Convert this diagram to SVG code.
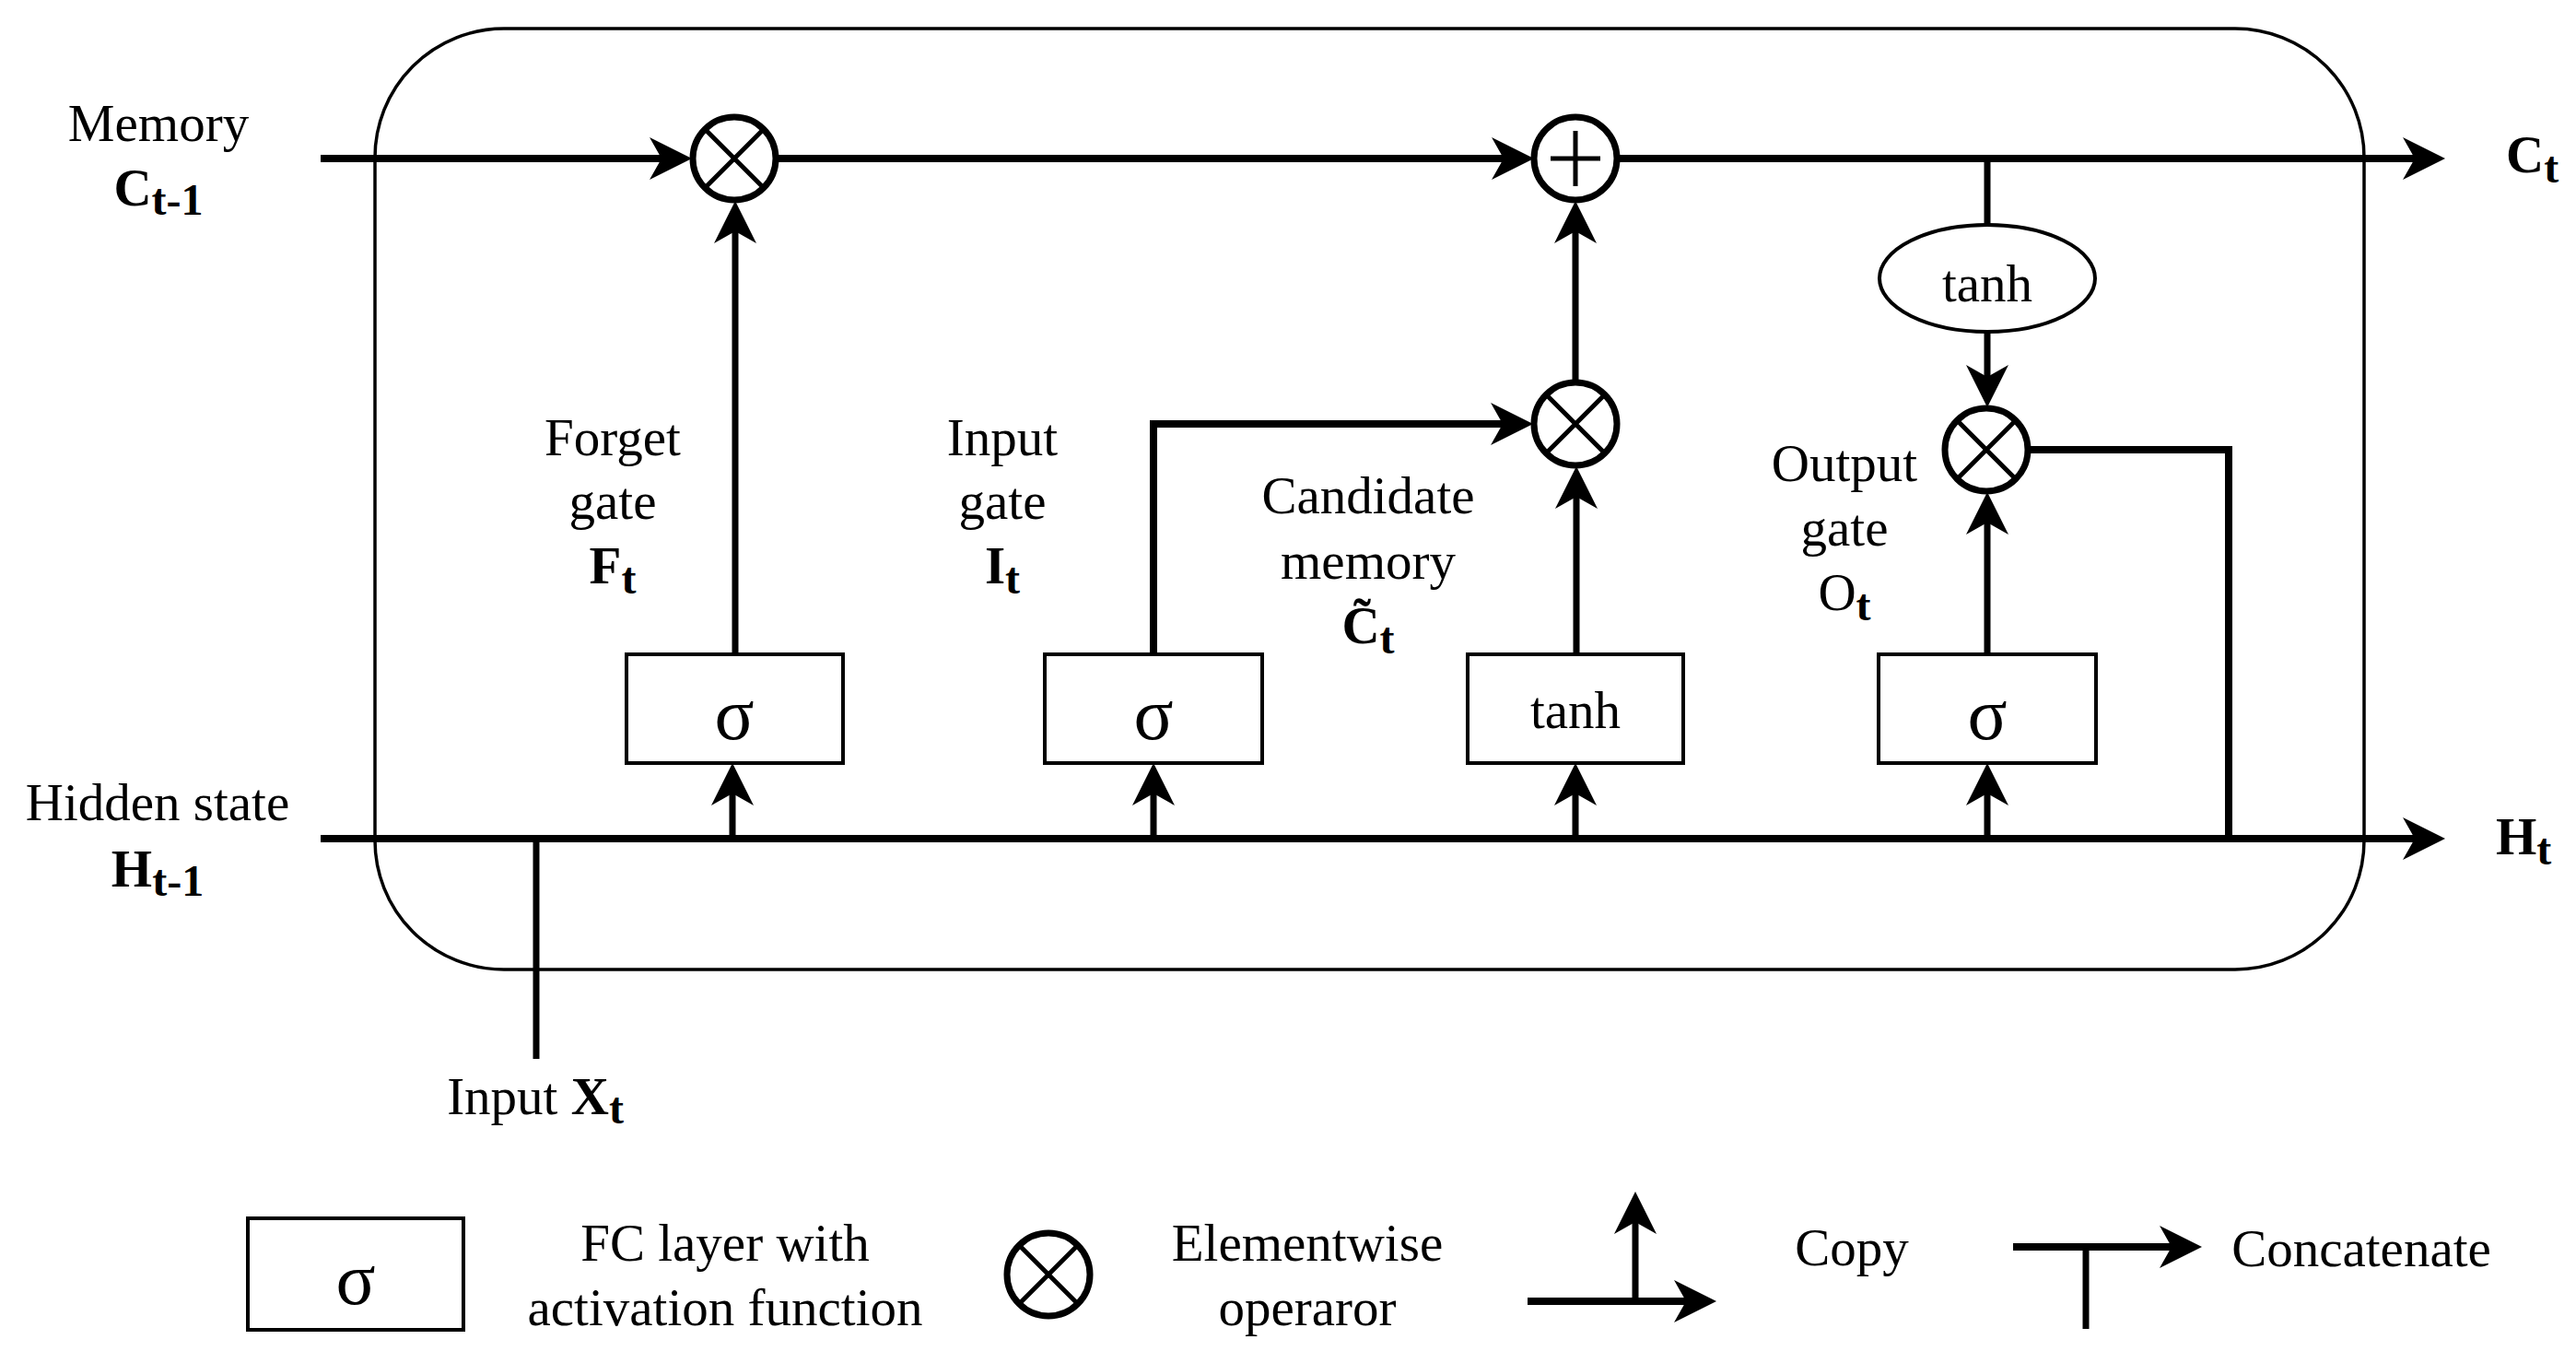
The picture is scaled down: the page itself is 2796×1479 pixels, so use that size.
<svg xmlns="http://www.w3.org/2000/svg" width="2796" height="1479" viewBox="0 0 2796 1479">
<style>
text{font-family:"Liberation Serif","Times New Roman",serif;font-size:57px;fill:#000;text-anchor:middle}
.b{font-weight:bold}
.s{font-size:48px}
.sig{font-size:80px}
.st{text-anchor:start}
.box{fill:#fff;stroke:#000;stroke-width:4}
.op{fill:#fff;stroke:#000;stroke-width:7}
.opl{stroke:#000;stroke-width:5;fill:none}
.ln{stroke:#000;stroke-width:8;fill:none}
.lv{stroke:#000;stroke-width:7;fill:none}
.arr{marker-end:url(#ah)}
</style>
<defs>
<marker id="ah" markerUnits="userSpaceOnUse" markerWidth="46" markerHeight="46" viewBox="0 0 46 46" refX="13" refY="23" orient="auto">
<path d="M0,0 L46,23 L0,46 L13,23 Z" fill="#000"/>
</marker>
<g id="times">
<circle r="45" class="op"/>
<path d="M-32,-32 L32,32 M-32,32 L32,-32" class="opl"/>
</g>
</defs>
<rect width="2796" height="1479" fill="#fff"/>

<g id="cell">
<rect x="407" y="31" width="2159" height="1021" rx="140" ry="140" fill="none" stroke="#000" stroke-width="3.5"/>
</g>

<g id="connectors">
<line x1="348" y1="172" x2="718" y2="172" class="ln arr"/>
<line x1="842" y1="172" x2="1632" y2="172" class="ln arr"/>
<line x1="1755" y1="172" x2="2621" y2="172" class="ln arr"/>
<line x1="348" y1="910" x2="2621" y2="910" class="ln arr"/>
<line x1="582" y1="910" x2="582" y2="1149" class="lv"/>
<line x1="795" y1="910" x2="795" y2="861" class="lv arr"/>
<line x1="1252" y1="910" x2="1252" y2="861" class="lv arr"/>
<line x1="1710" y1="910" x2="1710" y2="861" class="lv arr"/>
<line x1="2157" y1="910" x2="2157" y2="861" class="lv arr"/>
<line x1="798" y1="710" x2="798" y2="251" class="lv arr"/>
<polyline points="1252,710 1252,460 1631,460" class="ln arr"/>
<line x1="1711" y1="710" x2="1711" y2="539" class="lv arr"/>
<line x1="1710" y1="414" x2="1710" y2="251" class="lv arr"/>
<line x1="2157" y1="710" x2="2157" y2="567" class="lv arr"/>
<line x1="2157" y1="172" x2="2157" y2="244" class="lv"/>
<line x1="2157" y1="360" x2="2157" y2="409" class="lv arr"/>
<polyline points="2202,488 2419,488 2419,910" class="ln"/>
</g>

<g id="forget-mul"><use href="#times" x="797" y="172"/></g>
<g id="add">
<circle cx="1710" cy="172" r="45" class="op"/>
<path d="M1683,172 L1737,172 M1710,142 L1710,202" class="opl"/>
</g>
<g id="input-mul"><use href="#times" x="1710" y="460"/></g>
<g id="output-mul"><use href="#times" x="2156" y="488"/></g>
<g id="tanh-ellipse">
<ellipse cx="2157" cy="302" rx="117" ry="58" fill="#fff" stroke="#000" stroke-width="4"/>
<text x="2157" y="327">tanh</text>
</g>

<g id="forget-box"><rect x="680" y="710" width="235" height="118" class="box"/><text x="797" y="802" class="sig">σ</text></g>
<g id="input-box"><rect x="1134" y="710" width="236" height="118" class="box"/><text x="1252" y="802" class="sig">σ</text></g>
<g id="tanh-box"><rect x="1593" y="710" width="234" height="118" class="box"/><text x="1710" y="790">tanh</text></g>
<g id="output-box"><rect x="2039" y="710" width="236" height="118" class="box"/><text x="2157" y="802" class="sig">σ</text></g>

<g id="labels">
<text x="172" y="153">Memory</text>
<text x="172" y="223" class="b">C<tspan class="s" dy="10">t-1</tspan></text>
<text x="171" y="890">Hidden state</text>
<text x="171" y="962" class="b">H<tspan class="s" dy="10">t-1</tspan></text>
<text x="581" y="1209">Input <tspan class="b">X</tspan><tspan class="s b" dy="10">t</tspan></text>
<text x="2720" y="187" class="b st">C<tspan class="s" dy="11">t</tspan></text>
<text x="2709" y="927" class="b st">H<tspan class="s" dy="11">t</tspan></text>
<text x="665" y="494">Forget</text>
<text x="665" y="563">gate</text>
<text x="665" y="633" class="b">F<tspan class="s" dy="11">t</tspan></text>
<text x="1088" y="494">Input</text>
<text x="1088" y="563">gate</text>
<text x="1088" y="633" class="b">I<tspan class="s" dy="11">t</tspan></text>
<text x="1485" y="557">Candidate</text>
<text x="1485" y="628">memory</text>
<text x="1485" y="698" class="b">C&#x303;<tspan class="s" dy="11">t</tspan></text>
<text x="2002" y="522">Output</text>
<text x="2002" y="592">gate</text>
<text x="2002" y="662">O<tspan class="s b" dy="11">t</tspan></text>
</g>

<g id="legend">
<g id="legend-fc"><rect x="269" y="1322" width="234" height="121" class="box"/><text x="386" y="1415" class="sig">σ</text></g>
<text x="787" y="1368">FC layer with</text>
<text x="787" y="1438">activation function</text>
<g id="legend-mul"><use href="#times" x="1138" y="1383"/></g>
<text x="1419" y="1368">Elementwise</text>
<text x="1419" y="1438">operaror</text>
<g id="legend-copy">
<line x1="1658" y1="1412" x2="1830" y2="1412" class="ln arr"/>
<line x1="1775" y1="1412" x2="1775" y2="1326" class="lv arr"/>
</g>
<text x="2010" y="1373">Copy</text>
<g id="legend-concat">
<line x1="2185" y1="1353" x2="2357" y2="1353" class="ln arr"/>
<line x1="2264" y1="1353" x2="2264" y2="1442" class="lv"/>
</g>
<text x="2563" y="1374">Concatenate</text>
</g>
</svg>
